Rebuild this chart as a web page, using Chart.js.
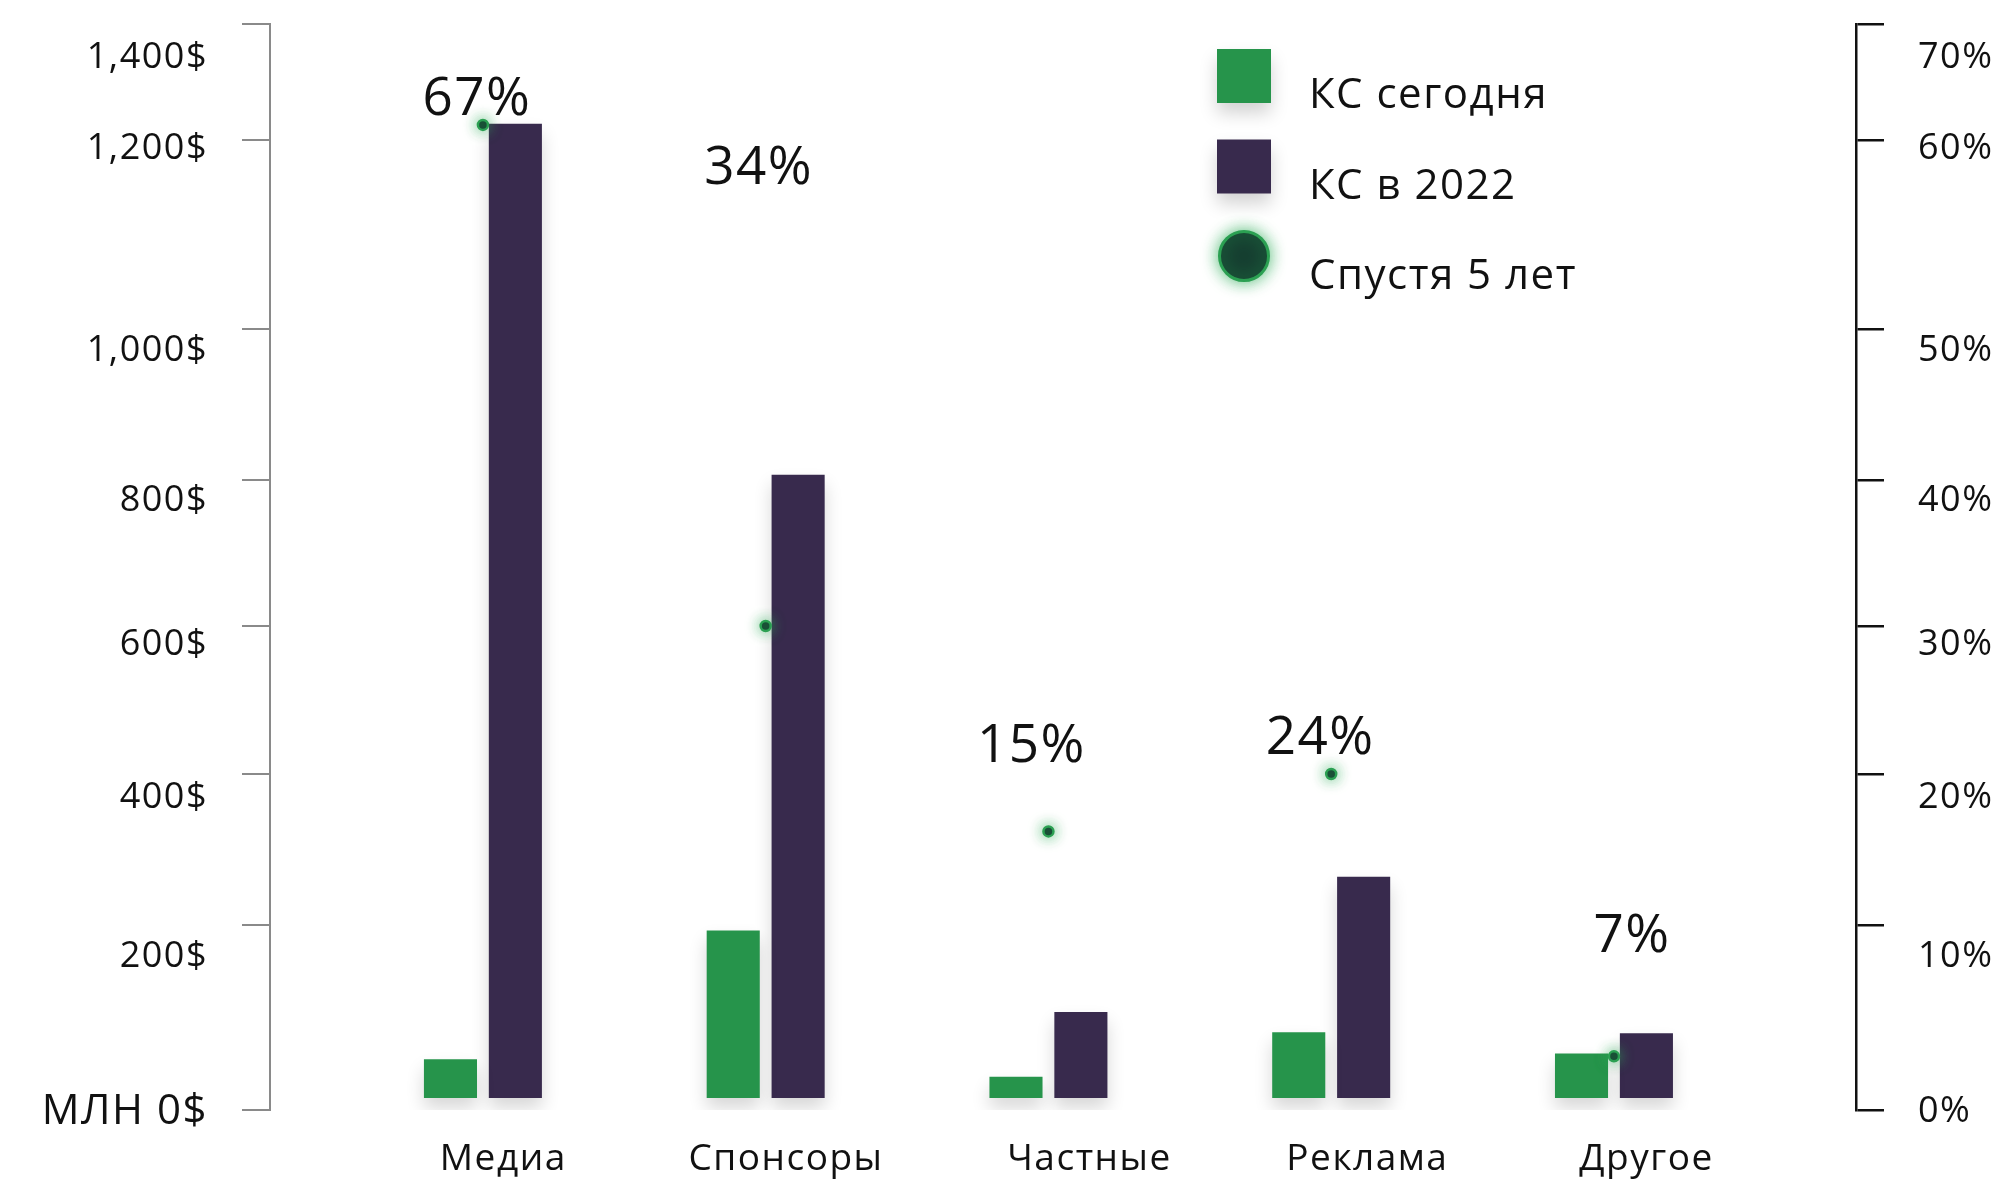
<!DOCTYPE html>
<html>
<head>
<meta charset="utf-8">
<script src="https://cdn.jsdelivr.net/npm/chart.js@4.4.1/dist/chart.umd.min.js"></script>
<style>
  html, body { margin: 0; padding: 0; background: #fff; }
  #wrap { width: 1998px; height: 1179px; position: relative; }
</style>
</head>
<body>
<div id="wrap"><canvas id="chart"></canvas></div>
<script>
// ---- data ----
const categories = ['Медиа', 'Спонсоры', 'Частные', 'Реклама', 'Другое'];
const seriesNames = ['КС сегодня', 'КС в 2022', 'Спустя 5 лет'];
const ksToday = [55, 194, 36, 84, 61];          // млн $
const ks2022 = [1228, 807, 106, 264, 83];       // млн $
const afterFiveYears = [61.3, 30, 16.2, 20, 2.9]; // % (dot position)
const growthPct = [67, 34, 15, 24, 7];          // % (label text)
const usdTicks = [0, 200, 400, 600, 800, 1000, 1200, 1400];
const pctTicks = [0, 10, 20, 30, 40, 50, 60, 70];

// ---- look ----
const FONT = "'Open Sans', 'Noto Sans', sans-serif";
const GREEN = '#26944B';
const PURPLE = '#382A4D';
const DOT_FILL = '#163F31';
const DOT_RING = '#2BA052';

// the value axes are not evenly spaced: share of plot height for each tick
const tickStops = [0, 0.1703, 0.3094, 0.4457, 0.5801, 0.7192, 0.8932, 1];
// tick labels sit a little below their tick marks (px, bottom to top)
const tickLabelShift = [2, 32, 24, 19, 21, 22, 9, 34];
// category labels sit right of the bar groups (in category units)
const categoryLabelShift = [0.072, 0.072, 0.145, 0.128, 0.115];
// percentage labels: x from the category centre, y from the dot (px)
const growthLabelShift = [[-6, -25], [-7, -457], [-17, -84], [-11, -35], [18, -119]];
const legendLayout = { x: 1217, top: 49, size: 54, step: 90.5, textX: 1309, font: 42 };

// piecewise linear value scale, so the uneven tick spacing comes from the scale itself
class StopsScale extends Chart.LinearScale {
  stopValues() {
    return this.id === 'y2' ? pctTicks : usdTicks;
  }
  getPixelForValue(value) {
    if (value === null || value === undefined || isNaN(value)) return NaN;
    const vals = this.stopValues();
    let i = 1;
    while (i < vals.length - 1 && value > vals[i]) i++;
    const t = (value - vals[i - 1]) / (vals[i] - vals[i - 1]);
    const dec = tickStops[i - 1] + t * (tickStops[i] - tickStops[i - 1]);
    return this.getPixelForDecimal(dec);
  }
  getValueForPixel(pixel) {
    const dec = this.getDecimalForPixel(pixel);
    const vals = this.stopValues();
    let i = 1;
    while (i < tickStops.length - 1 && dec > tickStops[i]) i++;
    const t = (dec - tickStops[i - 1]) / (tickStops[i] - tickStops[i - 1]);
    return vals[i - 1] + t * (vals[i] - vals[i - 1]);
  }
}
StopsScale.id = 'stops';
StopsScale.defaults = {};
Chart.register(StopsScale);

const toPoints = arr => arr.map((y, x) => ({ x, y }));

// soft drop shadow under bars, green glow round the dots
const shadows = {
  id: 'shadows',
  beforeDraw(chart) {
    chart.ctx.letterSpacing = '1.5px';
  },
  beforeDatasetDraw(chart, args) {
    const ctx = chart.ctx;
    ctx.save();
    if (args.meta.type === 'bar') {
      ctx.shadowColor = 'rgba(0,0,0,0.16)';
      ctx.shadowBlur = 18;
      ctx.shadowOffsetY = 10;
    } else {
      ctx.shadowColor = 'rgba(43,170,85,0.85)';
      ctx.shadowBlur = 14;
    }
  },
  afterDatasetDraw(chart) {
    chart.ctx.restore();
  }
};

// axis labels, percentage labels and the legend
const annotations = {
  id: 'annotations',
  afterDraw(chart) {
    const ctx = chart.ctx;
    const { x, y, y2 } = chart.scales;
    ctx.save();
    ctx.letterSpacing = '1.5px';
    ctx.fillStyle = '#111';
    ctx.textBaseline = 'middle';

    usdTicks.forEach((v, i) => {
      const py = y.getPixelForValue(v) + tickLabelShift[i];
      ctx.font = (v === 0 ? 42 : 36) + 'px ' + FONT;
      ctx.textAlign = 'right';
      ctx.fillText(v === 0 ? 'МЛН 0$' : v.toLocaleString('en-US') + '$', y.right - 62, py);
    });
    pctTicks.forEach((v, i) => {
      const py = y2.getPixelForValue(v) + tickLabelShift[i];
      ctx.font = '36px ' + FONT;
      ctx.textAlign = 'left';
      ctx.fillText(v + '%', y2.left + 62, py);
    });

    const dots = chart.getDatasetMeta(2).data;
    ctx.font = '53px ' + FONT;
    ctx.textAlign = 'center';
    growthPct.forEach((v, i) => {
      const px = x.getPixelForValue(i) + growthLabelShift[i][0];
      ctx.fillText(v + '%', px, dots[i].y + growthLabelShift[i][1]);
    });

    // legend
    const L = legendLayout;
    const ds = chart.data.datasets;
    ctx.font = L.font + 'px ' + FONT;
    ctx.textAlign = 'left';
    ctx.textBaseline = 'alphabetic';
    ds.forEach((d, i) => {
      const top = L.top + i * L.step;
      const cy = top + L.size / 2;
      ctx.save();
      if (d.type === 'bar') {
        ctx.shadowColor = 'rgba(0,0,0,0.18)';
        ctx.shadowBlur = 18;
        ctx.shadowOffsetY = 10;
        ctx.fillStyle = d.backgroundColor;
        ctx.fillRect(L.x, top, L.size, L.size);
      } else {
        ctx.shadowColor = 'rgba(43,170,85,0.8)';
        ctx.shadowBlur = 16;
        ctx.beginPath();
        ctx.arc(L.x + L.size / 2, cy - 1, 24.5, 0, Math.PI * 2);
        ctx.fillStyle = d.pointBackgroundColor;
        ctx.fill();
        ctx.lineWidth = 3;
        ctx.strokeStyle = d.pointBorderColor;
        ctx.stroke();
      }
      ctx.restore();
      ctx.fillText(d.label, L.textX, cy + 32);
    });
    ctx.restore();
  }
};

new Chart(document.getElementById('chart'), {
  type: 'bar',
  data: {
    datasets: [
      {
        type: 'bar',
        label: seriesNames[0],
        data: toPoints(ksToday),
        backgroundColor: GREEN,
        yAxisID: 'y',
        base: 13,
        categoryPercentage: 0.467,
        barPercentage: 0.818,
        order: 1
      },
      {
        type: 'bar',
        label: seriesNames[1],
        data: toPoints(ks2022),
        backgroundColor: PURPLE,
        yAxisID: 'y',
        base: 13,
        categoryPercentage: 0.467,
        barPercentage: 0.818,
        order: 1
      },
      {
        type: 'line',
        label: seriesNames[2],
        data: toPoints(afterFiveYears),
        yAxisID: 'y2',
        showLine: false,
        pointRadius: 5,
        pointBorderWidth: 2.5,
        pointBackgroundColor: DOT_FILL,
        pointBorderColor: DOT_RING,
        order: 0
      }
    ]
  },
  options: {
    responsive: true,
    maintainAspectRatio: false,
    animation: false,
    devicePixelRatio: 1,
    layout: { padding: { top: 24, left: 0, right: 0, bottom: 0 } },
    plugins: {
      legend: { display: false },
      tooltip: { enabled: false }
    },
    scales: {
      x: {
        type: 'linear',
        min: -0.753,
        max: 4.856,
        offset: false,
        afterBuildTicks: s => {
          s.ticks = categories.map((c, i) => ({ value: i + categoryLabelShift[i] }));
        },
        afterFit: s => { s.height = 69; },
        grid: { display: false },
        border: { display: false },
        ticks: {
          callback: (v, i) => categories[i],
          font: { family: FONT, size: 37 },
          color: '#111',
          padding: 19,
          maxRotation: 0,
          autoSkip: false
        }
      },
      y: {
        type: 'stops',
        position: 'left',
        min: 0,
        max: 1400,
        afterBuildTicks: s => { s.ticks = usdTicks.map(value => ({ value })); },
        afterFit: s => { s.width = 270; },
        ticks: { display: false },
        grid: { drawOnChartArea: false, drawTicks: true, tickLength: 28, color: '#8a8a8a', lineWidth: 2 },
        border: { display: true, color: '#8a8a8a', width: 2 }
      },
      y2: {
        type: 'stops',
        position: 'right',
        min: 0,
        max: 70,
        afterBuildTicks: s => { s.ticks = pctTicks.map(value => ({ value })); },
        afterFit: s => { s.width = 142; },
        ticks: { display: false },
        grid: { drawOnChartArea: false, drawTicks: true, tickLength: 28, color: '#111', lineWidth: 2.5 },
        border: { display: true, color: '#111', width: 2.5 }
      }
    }
  },
  plugins: [shadows, annotations]
});
</script>
</body>
</html>
